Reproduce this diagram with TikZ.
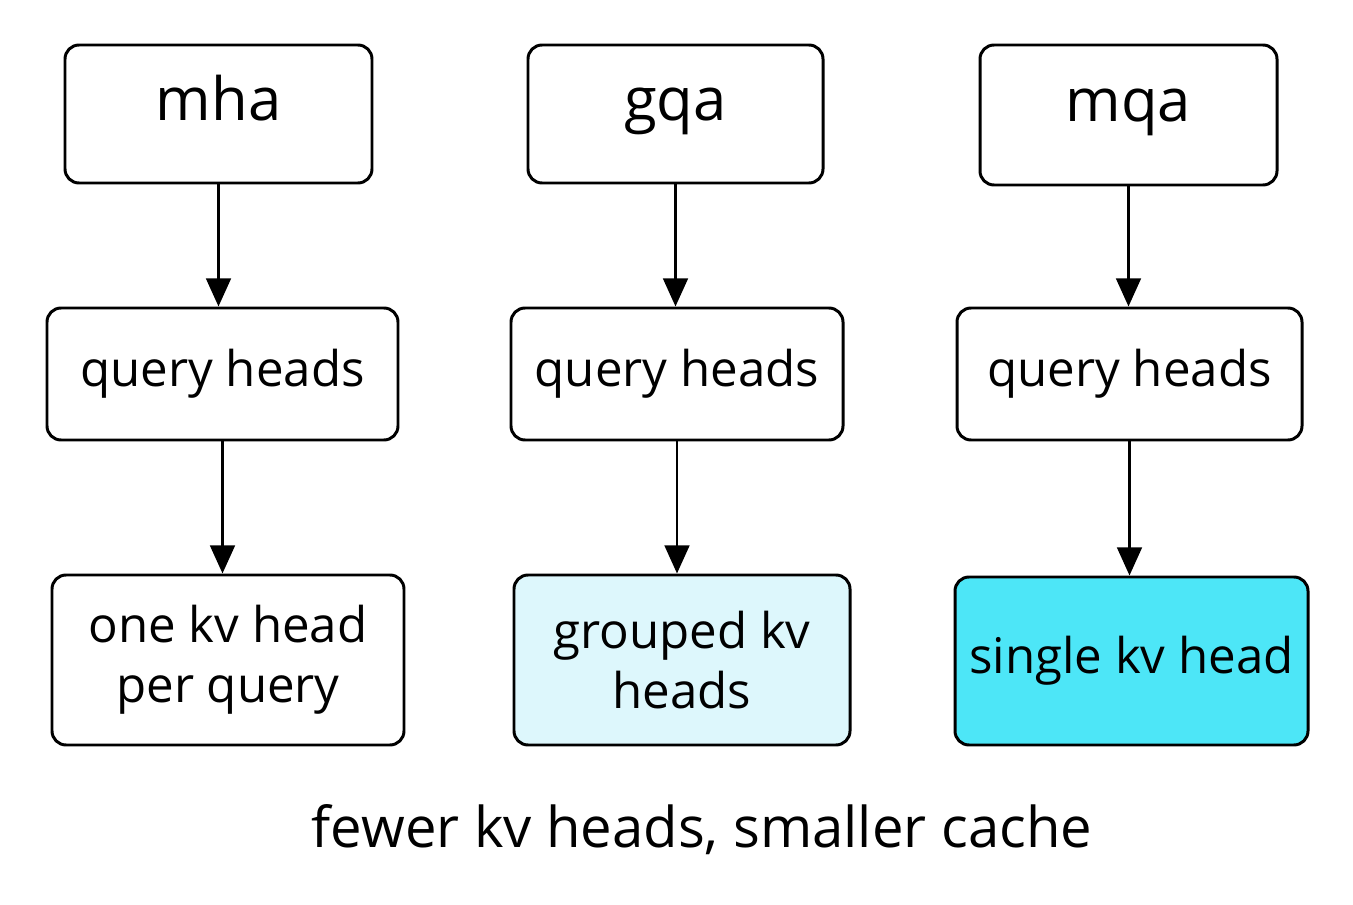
\documentclass[tikz,border=0pt]{standalone}
\usepackage{fontspec}
\setmainfont{Open Sans}
\usetikzlibrary{arrows.meta}
\definecolor{lightc}{HTML}{DDF7FC}
\definecolor{strongc}{HTML}{4DE6F7}
\begin{document}
\begin{tikzpicture}[x=0.02cm,y=-0.02cm,
  box/.style={draw=black,line width=1.7pt,rounded corners=8pt,fill=white,align=center,font=\fontsize{28}{34}\selectfont,inner sep=0pt},
  ttl/.style={box,font=\fontsize{34}{40}\selectfont,text height=0.97em,text depth=0.25em},
  arr/.style={line width=1.7pt,-{Triangle[length=16pt,width=14pt]}}]
\useasboundingbox (0,0) rectangle (1353,905);
\node[ttl,minimum width=307*0.02cm,minimum height=138*0.02cm] (t1) at (218.5,114) {mha};
\node[ttl,minimum width=295*0.02cm,minimum height=138*0.02cm] (t2) at (675.5,114) {gqa};
\node[ttl,minimum width=297*0.02cm,minimum height=140*0.02cm] (t3) at (1128.5,115) {mqa};
\node[box,minimum width=351*0.02cm,minimum height=132*0.02cm] (q1) at (222.5,374) {query heads};
\node[box,minimum width=332*0.02cm,minimum height=132*0.02cm] (q2) at (677,374) {query heads};
\node[box,minimum width=345*0.02cm,minimum height=132*0.02cm] (q3) at (1129.5,374) {query heads};
\node[box,minimum width=352*0.02cm,minimum height=170*0.02cm] (b1) at (228,660) {one kv head\\per query};
\node[box,fill=lightc,minimum width=336*0.02cm,minimum height=170*0.02cm] (b2) at (682,660) {grouped kv\\heads};
\node[box,fill=strongc,minimum width=353*0.02cm,minimum height=168*0.02cm] (b3) at (1131.5,661) {single kv head};
\draw[arr] (t1) -- (t1|-q1.north);
\draw[arr] (t2) -- (t2|-q2.north);
\draw[arr] (t3) -- (t3|-q3.north);
\draw[arr] (q1) -- (q1|-b1.north);
\draw[arr] (q2) -- (q2|-b2.north);
\draw[arr] (q3) -- (q3|-b3.north);
\node[font=\fontsize{32}{38}\selectfont] (cap) at (702,830) {fewer kv heads, smaller cache};
\end{tikzpicture}
\end{document}
